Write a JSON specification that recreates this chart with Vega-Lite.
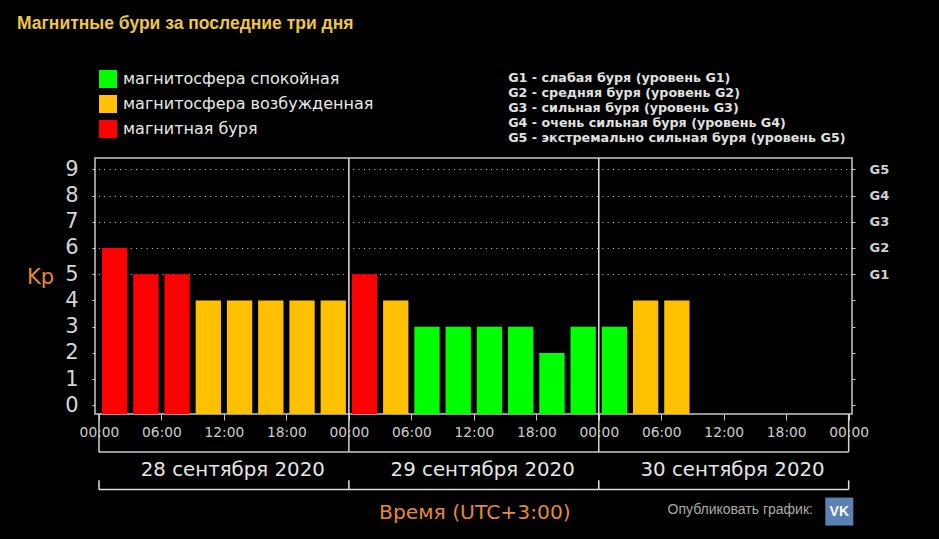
{
"$schema":"https://vega.github.io/schema/vega-lite/v6.json",
"width":757,"height":256,
"autosize":{"type":"none"},
"padding":{"left":95,"top":158,"right":87,"bottom":125},
"background":"#000000",
"view":{"stroke":"#c8c8c8","strokeWidth":1.5,"fill":"#000000"},
"title":{"text":"Магнитные бури за последние три дня","anchor":"start","frame":"group","dx":-78,"offset":38,"font":"Liberation Sans","fontSize":17.5,"fontWeight":"bold","color":"#eec643"},
"datasets":{
"kp":[
{"hour":1.5,"kp":6,"state":"магнитная буря"},{"hour":4.5,"kp":5,"state":"магнитная буря"},{"hour":7.5,"kp":5,"state":"магнитная буря"},
{"hour":10.5,"kp":4,"state":"магнитосфера возбужденная"},{"hour":13.5,"kp":4,"state":"магнитосфера возбужденная"},{"hour":16.5,"kp":4,"state":"магнитосфера возбужденная"},{"hour":19.5,"kp":4,"state":"магнитосфера возбужденная"},{"hour":22.5,"kp":4,"state":"магнитосфера возбужденная"},
{"hour":25.5,"kp":5,"state":"магнитная буря"},{"hour":28.5,"kp":4,"state":"магнитосфера возбужденная"},
{"hour":31.5,"kp":3,"state":"магнитосфера спокойная"},{"hour":34.5,"kp":3,"state":"магнитосфера спокойная"},{"hour":37.5,"kp":3,"state":"магнитосфера спокойная"},{"hour":40.5,"kp":3,"state":"магнитосфера спокойная"},{"hour":43.5,"kp":2,"state":"магнитосфера спокойная"},{"hour":46.5,"kp":3,"state":"магнитосфера спокойная"},
{"hour":49.5,"kp":3,"state":"магнитосфера спокойная"},{"hour":52.5,"kp":4,"state":"магнитосфера возбужденная"},{"hour":55.5,"kp":4,"state":"магнитосфера возбужденная"}],
"levels":[{"kp":5},{"kp":6},{"kp":7},{"kp":8},{"kp":9}]
},
"layer":[
{"data":{"name":"levels"},"mark":{"type":"point","opacity":0},
 "encoding":{
  "y":{"field":"kp","type":"quantitative","scale":{"domain":[-0.33,9.43],"nice":false,"zero":false},
   "axis":{"orient":"right","values":[0,1,2,3,4,5,6,7,8,9],"title":null,"grid":true,"gridColor":"#ffffff","gridDash":[1,4.3],"gridWidth":1,"gridOpacity":{"condition":{"test":"datum.value >= 5","value":0.8},"value":0},"domain":false,"ticks":true,"tickSize":3,"tickColor":"#c8c8c8","labelExpr":"datum.value >= 5 ? 'G' + (datum.value - 4) : ''","labelFont":"DejaVu Sans","labelFontWeight":"bold","labelFontSize":13,"labelColor":"#d0d0d0","labelPadding":14}}}},
{"data":{"name":"kp"},"mark":{"type":"bar","size":25.3},
 "encoding":{
  "x":{"field":"hour","type":"quantitative","scale":{"domain":[-0.384,72.32],"nice":false,"zero":false,"padding":0},
   "axis":{"values":[0,3,6,9,12,15,18,21,24,27,30,33,36,39,42,45,48,51,54,57,60,63,66,69,72],"title":null,"grid":false,"domain":false,"tickColor":"#c8c8c8","tickSize":{"condition":{"test":"datum.value % 6 === 0","value":6},"value":3},"labelExpr":"datum.value % 6 === 0 ? (datum.value % 24 === 0 ? '00:00' : datum.value % 24 === 6 ? '06:00' : datum.value % 24 === 12 ? '12:00' : '18:00') : ''","labelFont":"DejaVu Sans","labelFontSize":13.8,"labelColor":"#cccccc","labelPadding":5,"labelOverlap":false,"labelFlush":false}},
  "y":{"field":"kp","type":"quantitative","scale":{"domain":[-0.33,9.43],"nice":false,"zero":false},
   "axis":{"values":[0,1,2,3,4,5,6,7,8,9],"title":"Kp","titleAngle":0,"titleX":-55,"titleY":119,"titleAlign":"center","titleBaseline":"middle","titleFont":"DejaVu Sans","titleFontWeight":"normal","titleFontSize":21,"titleColor":"#e5893a","grid":false,"domain":false,"tickSize":3,"tickColor":"#c8c8c8","labelFont":"DejaVu Sans","labelFontSize":21,"labelColor":"#d6d6d6","labelPadding":14}},
  "y2":{"datum":-0.33},
  "color":{"field":"state","type":"nominal","scale":{"domain":["магнитосфера спокойная","магнитосфера возбужденная","магнитная буря"],"range":["#00ff00","#ffc000","#ff0000"]},
   "legend":{"orient":"none","legendX":4,"legendY":-88,"title":null,"symbolType":"square","symbolSize":324,"symbolStrokeWidth":0,"labelFont":"DejaVu Sans","labelFontSize":16,"labelColor":"#e8e8e8","rowPadding":7,"labelOffset":6,"labelLimit":400}}
 }},
{"data":{"values":[{"hour":24},{"hour":48}]},"mark":{"type":"rule","color":"#e0e0e0","strokeWidth":1.5},
 "encoding":{"x":{"field":"hour","type":"quantitative"},"y":{"datum":-0.33,"axis":null},"y2":{"datum":9.43}}},
{"data":{"values":[{"hour":0},{"hour":24},{"hour":48},{"hour":72}]},"mark":{"type":"rule","color":"#d0d0d0","strokeWidth":1.5},
 "encoding":{"x":{"field":"hour","type":"quantitative"},"y":{"datum":-0.33,"axis":null},"y2":{"datum":-1.78}}},
{"data":{"values":[{"hour":0},{"hour":24},{"hour":48},{"hour":72}]},"mark":{"type":"rule","color":"#e0e0e0","strokeWidth":1.5},
 "encoding":{"x":{"field":"hour","type":"quantitative"},"y":{"datum":-2.86,"axis":null},"y2":{"datum":-3.21}}},
{"data":{"values":[{"from":0,"to":72,"level":-1.78}]},"mark":{"type":"rule","color":"#c8c8c8","strokeWidth":1.5},
 "encoding":{"x":{"field":"from","type":"quantitative"},"x2":{"field":"to"},"y":{"field":"level","type":"quantitative","axis":null}}},
{"data":{"values":[{"from":0,"to":72,"level":-3.21}]},"mark":{"type":"rule","color":"#e0e0e0","strokeWidth":1.5},
 "encoding":{"x":{"field":"from","type":"quantitative"},"x2":{"field":"to"},"y":{"field":"level","type":"quantitative","axis":null}}},
{"data":{"values":[{"hour":12.85,"level":-2.47,"label":"28 сентября 2020"},{"hour":36.85,"level":-2.47,"label":"29 сентября 2020"},{"hour":60.85,"level":-2.47,"label":"30 сентября 2020"}]},
 "mark":{"type":"text","font":"DejaVu Sans","fontSize":19.8,"color":"#e6e6e6","align":"center","baseline":"middle"},
 "encoding":{"x":{"field":"hour","type":"quantitative"},"y":{"field":"level","type":"quantitative","axis":null},"text":{"field":"label"}}},
{"data":{"values":[{"hour":36.1,"level":-4.12,"label":"Время (UTC+3:00)"}]},
 "mark":{"type":"text","font":"DejaVu Sans","fontSize":20.3,"color":"#e5893a","align":"center","baseline":"middle"},
 "encoding":{"x":{"field":"hour","type":"quantitative"},"y":{"field":"level","type":"quantitative","axis":null},"text":{"field":"label"}}},
{"data":{"values":[{"hour":54.6,"level":-4.0,"label":"Опубликовать график:"}]},
 "mark":{"type":"text","font":"Liberation Sans","fontSize":14,"color":"#aaaaaa","align":"left","baseline":"middle"},
 "encoding":{"x":{"field":"hour","type":"quantitative"},"y":{"field":"level","type":"quantitative","axis":null},"text":{"field":"label"}}},
{"data":{"values":[{"hour":39.3,"level":12.48,"label":"G1 - слабая буря (уровень G1)"},{"hour":39.3,"level":11.91,"label":"G2 - средняя буря (уровень G2)"},{"hour":39.3,"level":11.34,"label":"G3 - сильная буря (уровень G3)"},{"hour":39.3,"level":10.76,"label":"G4 - очень сильная буря (уровень G4)"},{"hour":39.3,"level":10.19,"label":"G5 - экстремально сильная буря (уровень G5)"}]},
 "mark":{"type":"text","font":"DejaVu Sans","fontSize":12.7,"fontWeight":"bold","color":"#e0e0e0","align":"left","baseline":"middle"},
 "encoding":{"x":{"field":"hour","type":"quantitative"},"y":{"field":"level","type":"quantitative","axis":null},"text":{"field":"label"}}},
{"data":{"values":[{"hour":71.1,"level":-4.05}]},"mark":{"type":"point","shape":"square","filled":true,"size":784,"opacity":1,"color":"#5a80b4"},
 "encoding":{"x":{"field":"hour","type":"quantitative"},"y":{"field":"level","type":"quantitative","axis":null}}},
{"data":{"values":[{"hour":71.1,"level":-4.05,"label":"VK"}]},
 "mark":{"type":"text","font":"Liberation Sans","fontSize":14,"fontWeight":"bold","color":"#ffffff","align":"center","baseline":"middle"},
 "encoding":{"x":{"field":"hour","type":"quantitative"},"y":{"field":"level","type":"quantitative","axis":null},"text":{"field":"label"}}}
],
"resolve":{"axis":{"y":"independent"}},
"config":{"axis":{"labelOverlap":false}}
}
